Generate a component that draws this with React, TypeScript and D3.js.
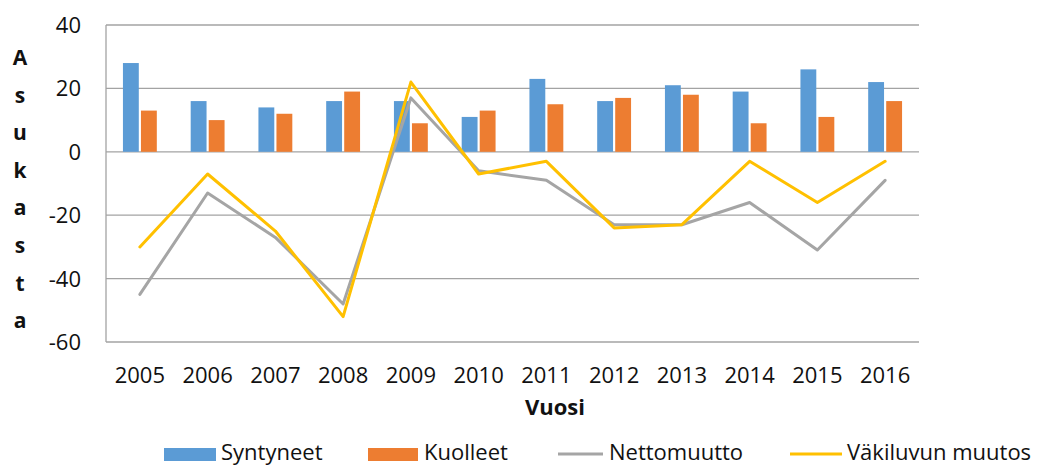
import React from "react";
import * as d3 from "d3";

const years = ["2005","2006","2007","2008","2009","2010","2011","2012","2013","2014","2015","2016"];
const syntyneet = [28, 16, 14, 16, 16, 11, 23, 16, 21, 19, 26, 22];
const kuolleet = [13, 10, 12, 19, 9, 13, 15, 17, 18, 9, 11, 16];
const nettomuutto = [-45, -13, -27, -48, 17, -6, -9, -23, -23, -16, -31, -9];
const vakiluvunMuutos = [-30, -7, -25, -52, 22, -7, -3, -24, -23, -3, -16, -3];
const yTicks = [40, 20, 0, -20, -40, -60];
const yLabelLetters = ["A", "s", "u", "k", "a", "s", "t", "a"];
const barSeries = ["Syntyneet", "Kuolleet"];

const W = 1044, H = 465;
const FONT = "'Open Sans', sans-serif";
const BLUE = "#5B9BD5", ORANGE = "#ED7D31", GRAY = "#A5A5A5", YELLOW = "#FFC000";

export default function App() {
  const x = d3.scaleBand<string>().domain(years).range([106, 919]).paddingInner(0).paddingOuter(0);
  const bw = x.bandwidth();
  const x1 = d3.scaleBand<string>().domain(barSeries).range([bw * 0.25, bw * 0.75]).paddingInner(0.12);
  const y = d3.scaleLinear().domain([-60, 40]).range([342, 25]);
  const cx = (yr: string) => (x(yr) as number) + bw / 2;

  const line = d3.line<number>().x((_, i) => cx(years[i])).y((d) => y(d));

  const barData = [
    { name: "Syntyneet", values: syntyneet, color: BLUE },
    { name: "Kuolleet", values: kuolleet, color: ORANGE },
  ];

  return (
    <svg width={W} height={H} style={{ position: "absolute", left: 0, top: 0, background: "#fff" }} fontFamily={FONT}>
      {/* gridlines */}
      {yTicks.map((t) => (
        <line key={t} x1={106} x2={919} y1={y(t)} y2={y(t)} stroke="#a3a3a3" strokeWidth={1.3} />
      ))}
      <line x1={106} x2={106} y1={y(40)} y2={y(-60)} stroke="#a3a3a3" strokeWidth={1.3} />
      {/* y tick labels */}
      {yTicks.map((t) => (
        <text key={t} x={81} y={y(t)} dy="0.36em" textAnchor="end" fontSize={22} fill="#111">{t}</text>
      ))}
      {/* y axis title letters */}
      {yLabelLetters.map((l, i) => (
        <text key={i} x={20} y={65 + i * 37.6} textAnchor="middle" fontSize={21} fontWeight="bold" fill="#111">{l}</text>
      ))}
      {/* bars */}
      {barData.map((s) =>
        s.values.map((v, i) => (
          <rect key={s.name + i}
            x={(x(years[i]) as number) + (x1(s.name) as number)}
            y={y(Math.max(0, v))}
            width={x1.bandwidth()}
            height={Math.abs(y(v) - y(0))}
            fill={s.color} />
        ))
      )}
      {/* lines */}
      <path d={line(nettomuutto) || ""} fill="none" stroke={GRAY} strokeWidth={3} strokeLinejoin="round" strokeLinecap="round" />
      <path d={line(vakiluvunMuutos) || ""} fill="none" stroke={YELLOW} strokeWidth={3} strokeLinejoin="round" strokeLinecap="round" />
      {/* x labels */}
      {years.map((yr) => (
        <text key={yr} x={cx(yr)} y={383} textAnchor="middle" fontSize={22} fill="#111">{yr}</text>
      ))}
      <text x={555} y={415} textAnchor="middle" fontSize={22} fontWeight="bold" fill="#111">Vuosi</text>
      {/* legend */}
      <rect x={164} y={448} width={52} height={13} fill={BLUE} />
      <text x={221} y={460} fontSize={22} fill="#111">Syntyneet</text>
      <rect x={368} y={448} width={50} height={13} fill={ORANGE} />
      <text x={424} y={460} fontSize={22} fill="#111">Kuolleet</text>
      <line x1={558} x2={603} y1={454} y2={454} stroke={GRAY} strokeWidth={3} />
      <text x={609} y={460} fontSize={22} fill="#111">Nettomuutto</text>
      <line x1={790} x2={842} y1={454} y2={454} stroke={YELLOW} strokeWidth={3} />
      <text x={847} y={460} fontSize={22} fill="#111">Väkiluvun muutos</text>
    </svg>
  );
}
